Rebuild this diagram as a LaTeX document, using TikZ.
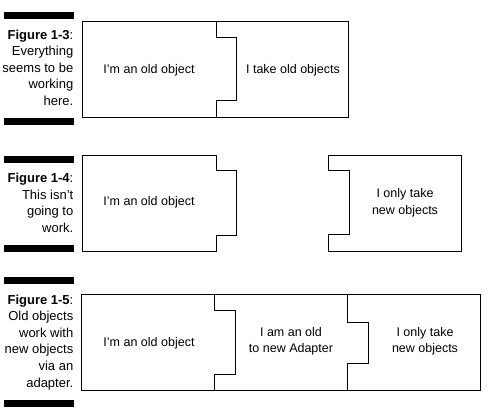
\documentclass[tikz,border=0pt]{standalone}
\usepackage{fontspec}
\setmainfont{Liberation Sans}
\usepackage{tikz}

\begin{document}
\begin{tikzpicture}[x=1pt, y=-1pt,
  piece/.style={draw=black, line width=1pt, line join=miter},
  barre/.style={fill=black},
  legende/.style={anchor=base east, align=right, inner sep=0pt, font=\fontsize{13}{16.6}\selectfont},
  txt/.style={align=center, inner sep=0pt, font=\fontsize{12.5}{16.5}\selectfont}]
\useasboundingbox (0,0) rectangle (497,418);

% Figure 1-3
\fill[barre] (4,12) rectangle (74,18.5);
\fill[barre] (4,118) rectangle (74,124.5);
\node[legende] (capA) at (73.5,105.5) {\textbf{Figure 1-3}:\\ Everything\\ seems to be\\ working\\ here.};
\draw[piece] (82,21.5) rectangle (348,117);
\draw[piece] (216,21.5) -- (216,37) -- (236,37) -- (236,100) -- (216,100) -- (216,117);
\node[txt] (oldA) at (149,70) {I’m an old object};
\node[txt] (takeA) at (293,70) {I take old objects};

% Figure 1-4
\fill[barre] (4,156) rectangle (74,162.5);
\fill[barre] (4,245) rectangle (74,251.5);
\node[legende] (capB) at (73.5,232.5) {\textbf{Figure 1-4}:\\ This isn’t\\ going to\\ work.};
\draw[piece] (82,155) -- (216,155) -- (216,170) -- (236,170) -- (236,235) -- (216,235)
  -- (216,251) -- (82,251) -- cycle;
\draw[piece] (328,155) -- (461,155) -- (461,251) -- (328,251) -- (328,234) -- (349,234)
  -- (349,170) -- (328,170) -- cycle;
\node[txt] (oldB) at (149,202) {I’m an old object};
\node[txt] (newB) at (405,203) {I only take\\ new objects};

% Figure 1-5
\fill[barre] (4,277) rectangle (74,283.5);
\fill[barre] (4,400) rectangle (74,406.5);
\node[legende] (capC) at (73.5,387) {\textbf{Figure 1-5}:\\ Old objects\\ work with\\ new objects\\ via an\\ adapter.};
\draw[piece] (81,294) rectangle (480,390);
\draw[piece] (214,294) -- (214,310) -- (235,310) -- (235,374) -- (214,374) -- (214,390);
\draw[piece] (347,294) -- (347,322) -- (368,322) -- (368,363) -- (347,363) -- (347,390);
\node[txt] (oldC) at (149,343) {I’m an old object};
\node[txt] (adapt) at (291,341.5) {I am an old\\ to new Adapter};
\node[txt] (newC) at (425,341.5) {I only take\\ new objects};
\end{tikzpicture}
\end{document}
